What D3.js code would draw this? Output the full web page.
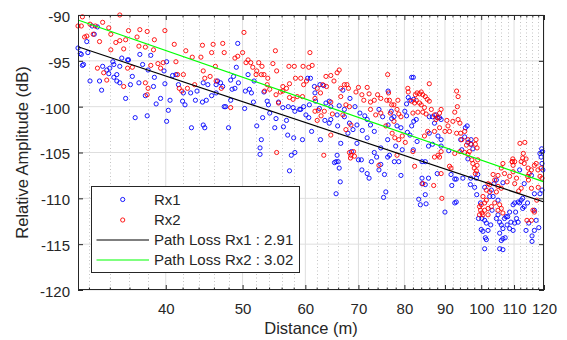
<!DOCTYPE html>
<html><head><meta charset="utf-8">
<script src="https://cdn.jsdelivr.net/npm/d3@7"></script>
<style>body{margin:0;background:#fff} text{font-family:"Liberation Sans",Arial,Helvetica,sans-serif}</style>
</head><body><svg id="c" width="567" height="340"></svg>
<script>
const xTicks=[40,50,60,70,80,90,100,110,120];
const xMinor=[32,34,36,38,42,44,46,48,52,54,56,58,62,64,66,68,72,74,76,78,82,84,86,88,92,94,96,98,102,104,106,108,112,114,116,118];
const yTicks=[-90,-95,-100,-105,-110,-115,-120];
const legendLabels=["Rx1","Rx2","Path Loss Rx1 : 2.91","Path Loss Rx2 : 3.02"];
const xLabel="Distance (m)", yLabel="Relative Amplitude (dB)";

const rx1Points=[
[31.8,-92.9],[32.3,-91.2],[32.8,-91.3],[31.3,-94.3],[31.9,-94.1],[31.5,-95.4],[32.1,-97.2],[33,-97.2],[33.2,-98.2],[33.3,-95.6],[33.7,-96],[33.9,-96.4],[34,-95.8],[34.3,-95.1],[34.4,-95.4],[34.7,-97.2],[35,-97.4],[35.2,-94.7],[35.8,-94.9],[35.9,-94.9],[36.3,-96.7],[36.1,-97.6],[35.6,-99.1],[37.1,-94.3],[37.4,-95.4],[37,-97.4],[38,-96],[38.3,-94.4],[38.6,-97.8],[38.9,-99.7],[39.8,-96.1],[39.9,-97.5],[40.1,-95.1],[40.5,-99.3],[40.3,-100.4],[36.6,-101.2],[37.9,-101],[40.1,-101.6],[40.8,-96.6],[41.2,-96.5],[41.5,-97.6],[42.1,-98.5],[42,-99.4],[42.3,-99.8],[43,-98.5],[43.1,-102.3],[43.6,-99.3],[43.8,-98.3],[44.6,-97.4],[44.5,-99.5],[45,-99.3],[45.2,-97.6],[44.6,-102],[44.8,-102.3],[46.3,-98.5],[46.3,-97.6],[46.5,-97.2],[46.9,-97.4],[47.2,-97.8],[47.4,-100],[47.6,-100],[48,-102.3],[48.3,-97.1],[48.3,-99.3],[48.5,-98.1],[35,-95.6],[34.4,-96.8],[38.7,-96.8],[39.4,-99.1],[37.7,-98.8],[34.7,-96.5],[31,-93.6],[31.2,-94.2],[31.4,-95.5],[32.5,-92.1],[45.7,-98.8],
[49.3,-93.1],[49.1,-95.7],[48.7,-96.7],[49.4,-97.4],[48.9,-98],[50.8,-96.5],[50.4,-98.3],[51,-98.1],[51.3,-98.5],[51.7,-97.2],[51.6,-99.5],[52.1,-102.1],[52.8,-103.6],[52.6,-104.5],[53.2,-98.4],[53.7,-99.4],[53.9,-99.8],[54.1,-100.7],[55.1,-101.3],[54.9,-102.3],[55.5,-99.5],[56.2,-100.1],[56.3,-102.2],[57.1,-100],[57,-103.1],[57.9,-100.1],[58.2,-100.5],[58,-103.4],[59,-100.3],[59.5,-103.6],[59.2,-100.3],[59.7,-100],[60.1,-100.9],[60.6,-101.2],[60.9,-96.9],[60.4,-96.9],[61.6,-97.8],[61.7,-98.5],[61.8,-99.4],[61.1,-102.7],[62.7,-103.6],[62.6,-97.6],[63.3,-97.7],[63.7,-99.6],[64.3,-99.4],[64.6,-100],[64.6,-101.4],[63.5,-101.5],[64.3,-101.8],[65.8,-100.9],[65.9,-102.1],[67.2,-100.3],[67.2,-101.1],[68.2,-101.8],[67.9,-102.9],[68.9,-102.5],[69.3,-100],[69.7,-102],[70.3,-100.7],[71.3,-101],[71.8,-101.4],[71.8,-103.4],[72.5,-102],[73.3,-102.7],[74.3,-100.3],[75.1,-101.1],[76.2,-103.6],[74.7,-104.5],[68.6,-104.9],[69.7,-104],[58.2,-105],[66.5,-104],[60.7,-99.8],[66.2,-99.9],[66.9,-98.2],[68.3,-99.1],[50.3,-100.2],[53,-101.2],[56.8,-101.5],[62.5,-100.2],[70.8,-102.6],
[52.6,-105.2],[57.6,-105.3],[57.3,-107],[65.8,-105.3],[65.3,-106.1],[65.6,-106],[66,-106],[66.2,-106.7],[66.4,-108.2],[65.6,-109.5],[70,-105.8],[70.6,-105.8],[70.7,-106.9],[71.8,-107.3],[72.2,-107.8],[72.7,-106],[73.3,-105],[73.8,-105.5],[74.3,-106.9],[74.7,-106.3],[75.5,-107.4],[75.8,-109.3],[75.3,-109.9],[76.2,-105.5],
[81.7,-96.8],[82.1,-96.8],[76.3,-98.3],[77,-100.5],[77.1,-101.3],[77.6,-101.1],[78.3,-102.1],[79.2,-102.3],[76.3,-102],[79.5,-104.7],[80.9,-99],[81.3,-99.3],[82.2,-99.2],[80.5,-99.7],[80.1,-100.5],[80.5,-101],[82.2,-101.6],[82.8,-101.4],[81.7,-102.1],[80.7,-102.8],[81.3,-103.1],[82.1,-104.7],[86,-101.1],[86.8,-101.1],[87.7,-100.9],[88,-101.2],[88.6,-101.2],[89,-101.4],[87.3,-101.8],[86,-102.9],[86.8,-104.1],[88.2,-103.2],[89,-103.6],[89,-104.3],[85.8,-104.3],[95.5,-102.3],[96,-102.1],[94.2,-103.6],[95.3,-103.3],[96.2,-103.9],[97,-104.1],[97.1,-103.6],[97.6,-104.6],[94.5,-104.7],[78,-104.3],[83,-103.8],[91,-104.8],
[76.6,-105.3],[77.7,-106],[78.7,-106],[79.2,-107.5],[84.2,-106],[85,-106],[84.2,-107.8],[84.2,-108.4],[85,-108.5],[85.8,-107.8],[83.4,-110.1],[83.8,-110.7],[85,-109.6],[85.2,-110.6],[88,-107.3],[90,-111.5],[91.8,-108.6],[92.6,-107.9],[93,-107.9],[92.6,-110.5],[93,-110.4],[94.8,-107.8],[97,-107.8],[96.9,-108.5],[99.8,-110.5],[99.2,-112.2],[100.2,-112.2],[100,-113.4],[100.5,-113.6],[101,-112.4],[101.5,-112.7],[102,-113.5],[101.2,-114.3],[101.5,-114.5],[101,-115.5],[102.5,-109.8],[103,-109.1],[103.5,-109.8],[103.2,-111.3],[104.5,-112.2],[105,-111.8],[105.5,-112.6],[106,-112.9],[106.5,-113.3],[105.5,-113.8],[106.5,-114.4],[106,-114.6],[105.5,-115.5],[106.5,-115.6],[107,-112.2],[107.5,-112],[108,-112],[107.8,-112.9],[108.6,-113.3],[109,-112.6],[109.7,-113.5],[110.2,-112.7],[110.8,-112.2],[111.3,-112.6],[108.6,-111.5],[109.7,-110.7],[110.2,-110.5],[111.3,-110.4],[112.3,-110.2],[111.8,-110.5],[112.8,-111.1],[113.3,-110.9],[113.9,-113.5],[114.4,-110.5],[112.8,-110],[113.3,-108.4],[116.7,-111.3],[117.3,-112.4],[116.7,-113.5],[115.9,-114.1],[115.9,-114.7],[119.3,-109.1],[118.6,-109.5],[116.7,-109.5],[119.6,-106.9],[119.3,-106.2],[118.6,-105.1],[119,-105.5],[115.7,-107.5],[103.8,-108.4],[104.5,-108],[106.5,-108.3],[105,-110.2],[99,-107.4],[98.6,-107.8],[98.1,-108.8],[101,-108.8],[111.8,-106.9],[119.2,-104.6],[119.5,-104.9],[96.2,-105.7],[91.6,-107.4],[98.7,-109.6],[102.8,-112.9],[107.2,-114.3],[110.5,-111.5],[114.8,-112.7],[118.2,-113.2]
];

const rx2Points=[
[31.3,-91.2],[35,-90],[32.1,-91],[32.6,-91.2],[33.3,-90.8],[33.9,-91.4],[31.8,-92.3],[32.4,-92.1],[34.1,-92.1],[35.9,-91.7],[37.1,-91.6],[37.9,-91.8],[39.9,-91.7],[38.7,-92.7],[36.8,-92.4],[34.6,-93],[35,-92.8],[35.6,-92.7],[34.1,-93.8],[35.4,-93.7],[37,-93.4],[37.7,-93.5],[38.6,-93.8],[41,-93.2],[42.4,-93.9],[44.5,-93.3],[45.9,-93.2],[47.2,-93.1],[47.4,-94.1],[43.2,-94.6],[44.3,-94.6],[45.7,-94.1],[41.2,-95.1],[39.7,-95.2],[39.1,-95.3],[38.3,-95.5],[39.4,-95.8],[35.8,-95.8],[36.3,-95.7],[33.4,-96.3],[33.7,-97.1],[35.4,-97.8],[37.7,-97.4],[38,-98],[37.9,-98.7],[41.4,-96.5],[42.1,-96.5],[41.6,-98],[41.9,-98.3],[42.6,-98],[43.5,-97.6],[44.8,-96.9],[45.5,-96.7],[46.3,-97.2],[47,-98],[48.3,-100.1],[46.2,-95.6],[44.6,-96.1],[31,-91.2],[31.4,-90.2],[31.6,-92.4],[33,-92.9],[32.8,-95.8],
[50.2,-91.9],[48.9,-94.7],[49.3,-94.5],[50,-94.1],[50.5,-95.2],[50.8,-94.9],[51.2,-95.2],[51.5,-95.7],[52.1,-96.1],[52.4,-95.2],[52.9,-95.6],[52,-96.5],[52.8,-96.5],[53.2,-96.5],[55,-93.9],[55.2,-96.1],[56.2,-97.8],[56.2,-98.3],[56.8,-98],[57.2,-95.6],[57.3,-97.5],[58.1,-95.6],[58.3,-96.9],[59.2,-96.9],[59.6,-95.6],[59.7,-97.6],[60.6,-95.7],[60.8,-94.1],[61.2,-95.5],[55.1,-98.7],[55.5,-99.6],[55.8,-98.4],[54.1,-98.1],[53.3,-98.3],[53.7,-97.6],[57.3,-99],[57.9,-99.2],[58.6,-98.9],[59.5,-98.9],[61.7,-99.1],[62.1,-98],[62.7,-98.5],[63.1,-97.6],[63.7,-96.7],[64.6,-96.6],[65.8,-96.3],[66.2,-96],[63.8,-97.8],[64.6,-99.5],[64.9,-100.8],[62.8,-101],[62.1,-101.5],[61.7,-100.5],[62.3,-100.4],[63.4,-100.5],[64.6,-103.1],[67.2,-97.6],[67.7,-97.6],[68,-98],[66.5,-98],[66.5,-98.9],[67.5,-99.8],[68.2,-100],[66.9,-100.9],[67.5,-102.5],[68.5,-102],[70,-97.9],[70.7,-98.7],[71.1,-99.3],[72.2,-98.6],[72.5,-99.5],[73.3,-99.3],[74,-98.7],[74.7,-99.1],[76,-99.3],[76.4,-98.5],[76.2,-96.5],[72.5,-100.3],[73.6,-100.9],[74.7,-100.7],[75.8,-102.1],[53.8,-96.9],[54.6,-95.3],[60.2,-97.2],[65.2,-97.2],[69.5,-98.4],[71.8,-97.9],
[55.2,-105],[63.3,-105.3],[68.2,-105],[68.5,-105.3],[69,-104.9],[69.2,-105.4],[68.4,-105.6],[74.3,-106.4],
[76.6,-99.3],[76.8,-100.7],[77.1,-99.8],[77.6,-99.8],[78.3,-100.3],[78.7,-100.8],[79.2,-101.1],[77.6,-101.6],[77.2,-102.9],[77.8,-103.4],[78.7,-103.6],[79.5,-103.2],[80.2,-103.9],[80.8,-98],[80.9,-98.4],[82,-100.7],[81.7,-99.4],[82.4,-99.6],[82.8,-99.3],[82.6,-98.7],[83,-98.5],[83.6,-98.6],[84,-98.4],[84.4,-98.7],[85,-98.9],[85.5,-99.2],[83.6,-99.6],[84,-99.8],[84.4,-100.6],[83.2,-100.6],[84.8,-100.1],[86,-99.4],[86,-97.5],[86.5,-100.3],[87.3,-100.9],[87.7,-101.4],[88.2,-101.2],[88.6,-100.7],[89,-100.3],[93.1,-98.3],[93.5,-98.9],[93.3,-100],[92.6,-100.6],[93.5,-101.4],[94,-101.8],[92.1,-101.6],[90.8,-102.1],[91.2,-102.7],[90,-102.7],[93.1,-102.9],[94.2,-102.9],[94.5,-103.6],[95.3,-102.7],[96.2,-103.6],[97.1,-104.1],[98.3,-104.1],[98.8,-104.5],[98.5,-103.6],[111.9,-104],[113.5,-103.9],[113,-105.1],[88.6,-102.3],[87.3,-102.7],[85.6,-102.7],[84.8,-103.2],[109.6,-105.7],[109.4,-106],[78.5,-99.3],[85.2,-100.8],[90.5,-101.5],[95.8,-104.2],
[82,-104.9],[78.3,-105.3],[88.2,-105.3],[88.6,-105.5],[87.3,-105.5],[89,-104.9],[91.2,-106.5],[91.6,-106.7],[92.6,-105.1],[94,-104.9],[95.3,-105],[96.2,-105.2],[96.6,-104.9],[97.6,-106.2],[98,-106.7],[98.3,-107.3],[98.8,-106.4],[98.6,-107],[97.3,-105.8],[99,-105.8],[87.1,-108.6],[89,-107.3],[89.2,-110],[82.4,-106.5],[105,-107.5],[106,-106.7],[107,-107.3],[106.5,-106.2],[104,-108],[102,-108.4],[102.5,-108.5],[101.5,-109.1],[102.5,-109.3],[104.5,-109.3],[105,-108.7],[106,-108.9],[100.5,-109.8],[101.5,-110.2],[101,-110.5],[100,-110.7],[99.8,-111.3],[100.2,-111.6],[99.5,-111.8],[102,-111.1],[101,-111.3],[100.5,-111.8],[103,-110.9],[104,-110.5],[105.5,-110.7],[105,-111.3],[106,-111.1],[106.5,-111.6],[102,-111.8],[99.5,-110.9],[108.6,-107.6],[109.7,-107.1],[110.2,-108.4],[110.8,-107.8],[109.7,-106.4],[110.2,-106],[109.4,-106],[112.3,-106],[112.8,-105.6],[113.3,-106.2],[114.6,-106.7],[115,-107.3],[115.7,-106.9],[116.7,-106.4],[117.3,-106.2],[117.9,-106.9],[118.6,-107.6],[119,-106.7],[119.3,-107.8],[112.3,-108.9],[114.4,-107.6],[114.7,-108],[115.7,-108.9],[116.2,-111.3],[116.7,-111.5],[115.7,-112.4],[114.2,-112.4],[84.4,-108.4],[113.9,-105.7],[117.5,-110.2],[103.5,-107.4],[107.8,-108.2],[111.5,-109.2],[118,-108.8]
];

const fitRx1=[[31,-93.46],[120,-110.4]];
const fitRx2=[[31,-90.55],[120,-108.2]];

const m={l:78,t:15,r:544,b:290};
const axisColor="#262626";
const svg=d3.select("#c");
const x=d3.scaleLog().domain([31,120]).range([m.l,m.r]);
const y=d3.scaleLinear().domain([-120,-90]).range([m.b,m.t]);
const fmt=d=>String(d);

// grid
const g=svg.append("g");
g.selectAll(".mg").data(xMinor).join("line")
  .attr("x1",d=>Math.round(x(d))+0.5).attr("x2",d=>Math.round(x(d))+0.5)
  .attr("y1",m.t).attr("y2",m.b).attr("stroke","#b5b5b5").attr("stroke-width",0.8).attr("stroke-dasharray","1,2.5");
g.selectAll(".xg").data(xTicks).join("line")
  .attr("x1",d=>x(d)).attr("x2",d=>x(d)).attr("y1",m.t).attr("y2",m.b).attr("stroke","#dedede").attr("stroke-width",1);
g.selectAll(".yg").data(yTicks).join("line")
  .attr("x1",m.l).attr("x2",m.r).attr("y1",d=>y(d)).attr("y2",d=>y(d)).attr("stroke","#dedede").attr("stroke-width",1);

// points
function scatter(data,color){
  svg.append("g").selectAll("circle").data(data).join("circle")
    .attr("cx",d=>x(d[0])).attr("cy",d=>y(d[1])).attr("r",2.1)
    .attr("fill","none").attr("stroke",color).attr("stroke-width",0.9);
}
scatter(rx1Points,"#0000ff");
scatter(rx2Points,"#ff0000");

// fit lines
const line=d3.line().x(d=>x(d[0])).y(d=>y(d[1]));
svg.append("path").attr("d",line(fitRx1)).attr("fill","none").attr("stroke","#000").attr("stroke-width",1.2);
svg.append("path").attr("d",line(fitRx2)).attr("fill","none").attr("stroke","#00ff00").attr("stroke-width",1.2);

// axes
function styleAxis(sel){
  sel.select(".domain").remove();
  sel.selectAll("line").attr("stroke",axisColor);
  sel.selectAll("text").attr("fill",axisColor).style("font-size","15px");
}
const bx=svg.append("g").attr("transform",`translate(0,${m.b})`)
  .call(d3.axisBottom(x).tickValues(xTicks).tickFormat(fmt).tickSize(-5).tickSizeOuter(0).tickPadding(13));
styleAxis(bx);
const bxm=svg.append("g").attr("transform",`translate(0,${m.b})`)
  .call(d3.axisBottom(x).tickValues(xMinor).tickFormat("").tickSize(-2.5).tickSizeOuter(0));
styleAxis(bxm);
const tx=svg.append("g").attr("transform",`translate(0,${m.t})`)
  .call(d3.axisTop(x).tickValues(xTicks).tickFormat("").tickSize(-5).tickSizeOuter(0));
styleAxis(tx);
const txm=svg.append("g").attr("transform",`translate(0,${m.t})`)
  .call(d3.axisTop(x).tickValues(xMinor).tickFormat("").tickSize(-2.5).tickSizeOuter(0));
styleAxis(txm);
const ly=svg.append("g").attr("transform",`translate(${m.l},0)`)
  .call(d3.axisLeft(y).tickValues(yTicks).tickFormat(fmt).tickSize(-5).tickSizeOuter(0).tickPadding(8));
styleAxis(ly);
ly.selectAll("text").attr("dy","0.43em");
const ry=svg.append("g").attr("transform",`translate(${m.r},0)`)
  .call(d3.axisRight(y).tickValues(yTicks).tickFormat("").tickSize(-5).tickSizeOuter(0));
styleAxis(ry);

svg.append("rect").attr("x",m.l+0.5).attr("y",m.t+0.5).attr("width",m.r-m.l-1).attr("height",m.b-m.t-1)
  .attr("fill","none").attr("stroke",axisColor).attr("stroke-width",1);

// labels
svg.append("text").attr("x",(m.l+m.r)/2).attr("y",334).attr("text-anchor","middle")
  .attr("fill",axisColor).style("font-size","16.5px").text(xLabel);
svg.append("text").attr("transform",`translate(28,${(m.t+m.b)/2}) rotate(-90)`).attr("text-anchor","middle")
  .attr("fill",axisColor).style("font-size","16.5px").text(yLabel);

// legend
const lg=svg.append("g");
lg.append("rect").attr("x",91.5).attr("y",186.5).attr("width",208).attr("height",86)
  .attr("fill","#fff").attr("stroke",axisColor).attr("stroke-width",1);
const rows=[199.5,220,240,260];
const styles=[{t:"m",c:"#0000ff"},{t:"m",c:"#ff0000"},{t:"l",c:"#000"},{t:"l",c:"#00ff00"}];
legendLabels.forEach((lab,i)=>{
  const s=styles[i];
  if(s.t==="m"){
    lg.append("circle").attr("cx",122.7).attr("cy",rows[i]).attr("r",2.1).attr("fill","none").attr("stroke",s.c).attr("stroke-width",0.9);
  } else {
    lg.append("line").attr("x1",96.5).attr("x2",149).attr("y1",rows[i]).attr("y2",rows[i]).attr("stroke",s.c).attr("stroke-width",1.2);
  }
  lg.append("text").attr("x",154).attr("y",rows[i]+5.4).attr("fill",axisColor).style("font-size","15px").text(lab);
});
</script></body></html>
